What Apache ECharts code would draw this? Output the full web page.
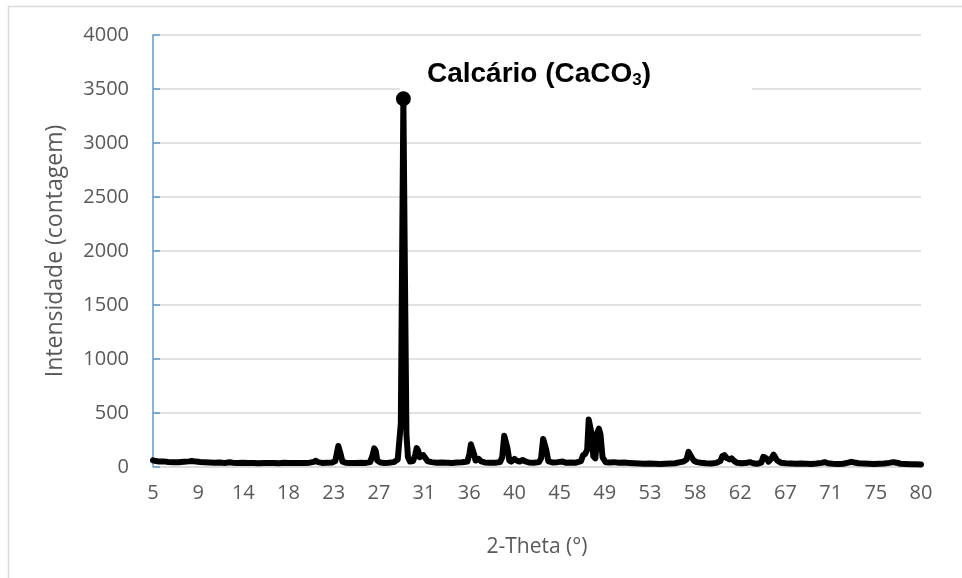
<!DOCTYPE html>
<html>
<head>
<meta charset="utf-8">
<script src="https://cdn.jsdelivr.net/npm/echarts@6/dist/echarts.min.js"></script>
<style>
  html, body { margin: 0; padding: 0; background: #fff; }
  #chart { width: 962px; height: 578px; }
</style>
</head>
<body>
<div id="chart"></div>
<script>
// 2-Theta positions (degrees) and counts
const twoTheta = [
  5.0, 5.3, 5.6, 6.0, 6.5, 7.0, 7.5, 8.0, 8.5, 8.8, 9.2, 9.6, 10.0, 10.5, 11.0, 11.5,
  12.0, 12.5, 12.8, 13.3, 13.8, 14.3, 14.8, 15.3, 15.8, 16.3, 16.8, 17.3, 17.8, 18.3,
  18.8, 19.3, 19.8, 20.3, 20.7, 20.9, 21.1, 21.5, 22.0, 22.5, 22.8, 23.0, 23.1, 23.2,
  23.35, 23.5, 23.8, 24.3, 24.8, 25.3, 25.8, 26.2, 26.45, 26.6, 26.75, 26.9, 27.2, 27.6,
  28.0, 28.5, 28.9, 29.2, 29.45, 29.6, 29.75, 29.9, 30.1, 30.4, 30.6, 30.75, 30.9, 31.05,
  31.2, 31.4, 31.55, 31.8, 32.2, 32.7, 33.2, 33.7, 34.2, 34.7, 35.2, 35.7, 35.9, 36.05,
  36.2, 36.35, 36.5, 36.8, 37.0, 37.4, 37.9, 38.4, 38.9, 39.1, 39.3, 39.45, 39.6, 39.8,
  40.0, 40.3, 40.5, 40.8, 41.1, 41.3, 41.7, 42.2, 42.7, 42.9, 43.1, 43.25, 43.4, 43.6,
  44.0, 44.5, 45.0, 45.3, 45.8, 46.3, 46.8, 47.0, 47.2, 47.4, 47.55, 47.7, 47.85, 48.0,
  48.2, 48.4, 48.55, 48.7, 48.9, 49.2, 49.6, 50.0, 50.5, 51.0, 51.5, 52.0, 52.5, 53.0,
  53.5, 54.0, 54.5, 55.0, 55.5, 56.0, 56.5, 56.8, 57.1, 57.3, 57.45, 57.6, 57.8, 58.1,
  58.5, 59.0, 59.5, 60.0, 60.4, 60.6, 60.8, 61.0, 61.3, 61.5, 61.7, 62.0, 62.5, 63.0,
  63.3, 63.6, 64.0, 64.4, 64.6, 64.75, 64.9, 65.1, 65.4, 65.6, 65.75, 65.95, 66.3, 66.8,
  67.3, 67.8, 68.3, 68.8, 69.3, 69.8, 70.3, 70.6, 70.9, 71.4, 71.9, 72.4, 72.9, 73.2,
  73.5, 73.9, 74.4, 74.9, 75.4, 75.9, 76.4, 76.9, 77.3, 77.6, 78.0, 78.5, 79.0, 79.5, 80.0
];
const counts = [
  62, 55, 50, 52, 47, 45, 44, 48, 52, 56, 50, 46, 44, 42, 40, 41,
  38, 43, 40, 37, 39, 36, 38, 35, 37, 36, 38, 35, 40, 37,
  36, 38, 36, 40, 48, 58, 45, 38, 40, 42, 55, 150, 195, 190,
  110, 50, 40, 38, 36, 40, 38, 45, 110, 172, 150, 60, 42, 38,
  40, 45, 70, 400, 3410, 1800, 300, 90, 50, 55, 110, 175, 150, 90,
  85, 110, 95, 55, 45, 40, 42, 40, 38, 42, 44, 50, 120, 210,
  205, 120, 60, 75, 55, 42, 40, 40, 45, 90, 290, 300, 180, 60,
  50, 75, 60, 50, 65, 55, 42, 40, 45, 80, 260, 265, 160, 55,
  42, 45, 50, 40, 42, 40, 55, 110, 120, 160, 440, 450, 300, 100,
  80, 320, 355, 300, 90, 45, 42, 45, 40, 42, 38, 35, 33, 30,
  32, 30, 28, 30, 32, 35, 45, 50, 70, 140, 145, 90, 60, 45,
  40, 35, 32, 38, 55, 100, 110, 85, 70, 80, 60, 40, 35, 40,
  45, 35, 30, 40, 95, 110, 80, 50, 80, 115, 105, 60, 40, 35,
  32, 30, 33, 30, 28, 32, 38, 45, 35, 30, 28, 30, 40, 48,
  42, 35, 32, 30, 28, 30, 32, 38, 45, 40, 30, 28, 26, 25, 24
];
// highlighted main calcite reflection
const peakTheta = [29.45];
const peakCounts = [3410];

// category-style tick labels as printed under the axis
const xTickLabels = ['5', '9', '14', '18', '23', '27', '31', '36', '40', '45', '49', '53', '58', '62', '67', '71', '75', '80'];
const xMin = 5, xMax = 80;
const xStep = (xMax - xMin) / (xTickLabels.length - 1);
const xTickValues = xTickLabels.map((_, i) => xMin + i * xStep);

const labelFont = 'Open Sans';
const labelColor = '#595959';

let chart = echarts.init(document.getElementById('chart'));

chart.setOption({
  animation: false,
  grid: {
    left: 153,
    right: 41,
    top: 35,
    bottom: 111
  },
  graphic: [
    {
      type: 'rect',
      silent: true,
      z: 0,
      shape: { x: 8.5, y: 6.5, width: 1000, height: 1000 },
      style: { fill: 'none', stroke: '#d9d9d9', lineWidth: 1.5 }
    },
    {
      type: 'rect',
      silent: true,
      z: 1,
      shape: { x: 400, y: 45, width: 352, height: 80 },
      style: { fill: '#fff' }
    },
    {
      type: 'text',
      silent: true,
      z: 10,
      x: 539,
      y: 74,
      style: {
        text: '{a|Calcário (CaCO}{s|3}{a|)}',
        align: 'center',
        verticalAlign: 'middle',
        rich: {
          a: { fontFamily: 'Liberation Sans', fontWeight: 'bold', fontSize: 28, fill: '#000', lineHeight: 32 },
          s: { fontFamily: 'Liberation Sans', fontWeight: 'bold', fontSize: 17, fill: '#000', lineHeight: 32, padding: [12, 0, 0, 0] }
        }
      }
    }
  ],
  xAxis: {
    type: 'value',
    min: xMin,
    max: xMax,
    name: '2-Theta (°)',
    nameLocation: 'middle',
    nameGap: 70,
    nameTextStyle: { fontFamily: labelFont, fontSize: 21, color: labelColor },
    axisLine: { show: true, lineStyle: { color: '#d9d9d9', width: 1.5 } },
    axisTick: { show: false },
    splitLine: { show: false },
    axisLabel: {
      customValues: xTickValues,
      margin: 16,
      fontFamily: labelFont,
      fontSize: 20,
      color: labelColor,
      formatter: v => xTickLabels[Math.round((v - xMin) / xStep)]
    }
  },
  yAxis: {
    type: 'value',
    min: 0,
    max: 4000,
    interval: 500,
    name: 'Intensidade (contagem)',
    nameLocation: 'middle',
    nameGap: 86,
    nameTextStyle: { fontFamily: labelFont, fontSize: 23, color: labelColor },
    axisLine: { show: true, lineStyle: { color: '#5b9bd5', width: 1.5 } },
    axisTick: { show: true, inside: true, length: 7, lineStyle: { color: '#5b9bd5', width: 1.5 } },
    splitLine: { show: true, lineStyle: { color: '#d9d9d9', width: 1.5 } },
    axisLabel: {
      margin: 24,
      fontFamily: labelFont,
      fontSize: 20,
      color: labelColor,
      formatter: v => String(v)
    }
  },
  series: [
    {
      name: 'Calcário',
      type: 'line',
      data: twoTheta.map((t, i) => [t, counts[i]]),
      showSymbol: false,
      z: 3,
      lineStyle: { color: '#000', width: 6, join: 'round', cap: 'round' }
    },
    {
      name: 'pico',
      type: 'scatter',
      data: peakTheta.map((t, i) => [t, peakCounts[i]]),
      symbolSize: 15,
      z: 4,
      itemStyle: { color: '#000', opacity: 1 }
    }
  ]
})
</script>
</body>
</html>
